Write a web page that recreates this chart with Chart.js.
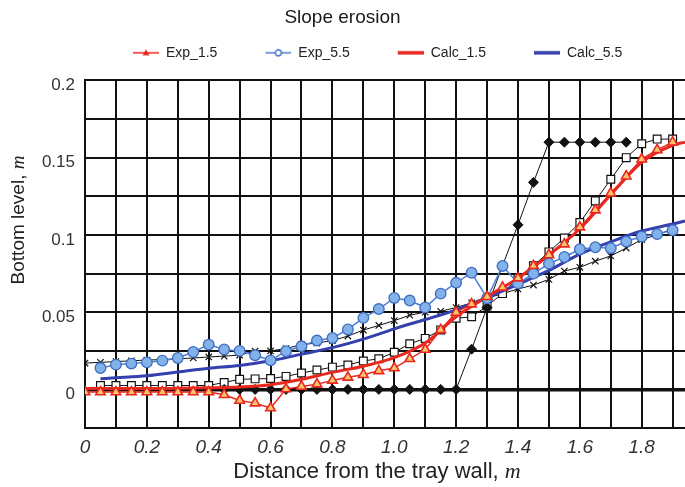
<!DOCTYPE html>
<html><head><meta charset="utf-8">
<script src="https://cdn.jsdelivr.net/npm/chart.js@4/dist/chart.umd.min.js"></script>
<style>html,body{margin:0;padding:0;background:#fff}</style>
</head><body>
<canvas id="c" width="685" height="487"></canvas>
<script>
// ---------------- data ----------------
const chartTitle = 'Slope erosion';
const seriesNames = ['Exp_1.5', 'Exp_5.5', 'Calc_1.5', 'Calc_5.5'];
const xAxisTitle = 'Distance from the tray wall, ';
const yAxisTitle = 'Bottom level, ';
const unitLabel = 'm';

const xExp15 = [0,0.05,0.1,0.15,0.2,0.25,0.3,0.35,0.4,0.45,0.5,0.55,0.6,0.65,0.7,0.75,0.8,0.85,0.9,0.95,1.0,1.05,1.1,1.15,1.2,1.25,1.3,1.35,1.4,1.45,1.5,1.55,1.6,1.65,1.7,1.75,1.8,1.85,1.9];
const yExp15 = [-0.0017,-0.0017,-0.0017,-0.0017,-0.0017,-0.0017,-0.0017,-0.0017,-0.0017,-0.0035,-0.0072,-0.0089,-0.0121,0.0002,0.0019,0.0034,0.0058,0.0078,0.0095,0.012,0.0138,0.0198,0.0258,0.0385,0.0498,0.0552,0.060,0.066,0.072,0.080,0.087,0.094,0.105,0.116,0.127,0.138,0.149,0.155,0.160];

const xExp55 = [0.05,0.1,0.15,0.2,0.25,0.3,0.35,0.4,0.45,0.5,0.55,0.6,0.65,0.7,0.75,0.8,0.85,0.9,0.95,1.0,1.05,1.1,1.15,1.2,1.25,1.3,1.35,1.4,1.45,1.5,1.55,1.6,1.65,1.7,1.75,1.8,1.85,1.9];
const yExp55 = [0.0138,0.016,0.0167,0.0175,0.0186,0.0203,0.0242,0.029,0.0258,0.0249,0.0221,0.0188,0.0247,0.0279,0.0316,0.0333,0.0388,0.0463,0.052,0.0592,0.0575,0.053,0.062,0.069,0.0755,0.059,0.0799,0.0686,0.0749,0.0814,0.0857,0.0907,0.092,0.0914,0.0957,0.0989,0.1005,0.103];

const xCalc15 = [0,0.1,0.2,0.3,0.4,0.5,0.6,0.7,0.8,0.9,1.0,1.1,1.2,1.3,1.4,1.5,1.6,1.7,1.8,1.9,1.94];
const yCalc15 = [0.0005,0.0005,0.0005,0.0007,0.001,0.0015,0.003,0.0065,0.011,0.015,0.0205,0.030,0.047,0.060,0.072,0.087,0.104,0.126,0.147,0.158,0.160];

const xCalc55 = [0.05,0.1,0.2,0.3,0.4,0.5,0.6,0.7,0.8,0.9,1.0,1.1,1.2,1.3,1.4,1.5,1.6,1.7,1.8,1.9,1.94];
const yCalc55 = [0.0069,0.0075,0.0088,0.0112,0.0137,0.0155,0.0185,0.0228,0.027,0.0325,0.0392,0.0452,0.0515,0.0595,0.068,0.077,0.0875,0.0955,0.1025,0.107,0.109];

const xDiamond = [0.45,0.5,0.55,0.6,0.65,0.7,0.75,0.8,0.85,0.9,0.95,1.0,1.05,1.1,1.15,1.2,1.25,1.3,1.35,1.4,1.45,1.5,1.55,1.6,1.65,1.7,1.75];
const yDiamond = [0,0,0,0,0,0,0,0,0,0,0,0,0,0,0,0,0.026,0.053,0.08,0.1065,0.134,0.16,0.16,0.16,0.16,0.16,0.16];

const xSquare = [0.05,0.1,0.15,0.2,0.25,0.3,0.35,0.4,0.45,0.5,0.55,0.6,0.65,0.7,0.75,0.8,0.85,0.9,0.95,1.0,1.05,1.1,1.15,1.2,1.25,1.3,1.35,1.4,1.45,1.5,1.55,1.6,1.65,1.7,1.75,1.8,1.85,1.9];
const ySquare = [0.0025,0.0025,0.0025,0.0025,0.0025,0.0025,0.0025,0.0025,0.0045,0.0065,0.0068,0.007,0.0084,0.0106,0.0125,0.0144,0.0158,0.0184,0.0198,0.024,0.0295,0.033,0.0385,0.046,0.047,0.054,0.062,0.072,0.080,0.089,0.098,0.108,0.122,0.136,0.150,0.159,0.162,0.162];

const xCross = [0,0.05,0.1,0.15,0.2,0.25,0.3,0.35,0.4,0.45,0.5,0.55,0.6,0.65,0.7,0.75,0.8,0.85,0.9,0.95,1.0,1.05,1.1,1.15,1.2,1.25,1.3,1.35,1.4,1.45,1.5,1.55,1.6,1.65,1.7,1.75,1.8,1.85,1.9];
const yCross = [0.017,0.0175,0.018,0.0185,0.019,0.0193,0.0198,0.0203,0.021,0.0215,0.0222,0.0247,0.0249,0.0264,0.029,0.030,0.0316,0.0345,0.0384,0.0414,0.0445,0.048,0.050,0.0505,0.053,0.056,0.059,0.062,0.065,0.0675,0.0712,0.0766,0.079,0.083,0.0864,0.0915,0.097,0.100,0.104];

const yTickValues = [0, 0.05, 0.1, 0.15, 0.2];
const yTickLabels = ['0', '0.05', '0.1', '0.15', '0.2'];
const xTickValues = [0, 0.2, 0.4, 0.6, 0.8, 1.0, 1.2, 1.4, 1.6, 1.8];
const xTickLabels = ['0', '0.2', '0.4', '0.6', '0.8', '1.0', '1.2', '1.4', '1.6', '1.8'];

// ---------------- styling ----------------
const RED = '#e8271e', TRI_FILL = '#fcc36c';
const BLUE_LINE = '#4d7fd4', CIRC_FILL = '#82b2e8', CIRC_EDGE = '#3f6cc4';
const CALC_BLUE = '#3340ae';
const GRID = '#111';
const FONT = '"Liberation Sans", Arial, Helvetica, sans-serif';
Chart.defaults.font.family = FONT;
Chart.defaults.color = '#222';

const pts = (xs, ys) => xs.map((x, i) => ({x, y: ys[i]}));

// legend icons (line + marker), drawn in the right part of a wider box
const ICON_BLANK = 36, ICON_LINE = 26, ICON_W = ICON_BLANK + ICON_LINE, ICON_H = 14;
function makeIcon(kind) {
  const c = document.createElement('canvas');
  c.width = ICON_W; c.height = ICON_H;
  const g = c.getContext('2d');
  const x0 = ICON_BLANK, x1 = ICON_BLANK + ICON_LINE, cy = ICON_H / 2, cx = (x0 + x1) / 2;
  g.beginPath(); g.moveTo(x0, cy); g.lineTo(x1, cy);
  if (kind === 'tri') {
    g.strokeStyle = RED; g.lineWidth = 1.5; g.stroke();
    g.beginPath(); g.moveTo(cx, cy - 3.5); g.lineTo(cx + 3.5, cy + 2.5); g.lineTo(cx - 3.5, cy + 2.5); g.closePath();
    g.fillStyle = RED; g.fill();
  } else if (kind === 'circ') {
    g.strokeStyle = BLUE_LINE; g.lineWidth = 1.5; g.stroke();
    g.beginPath(); g.arc(cx, cy, 3, 0, Math.PI * 2); g.fillStyle = '#fff'; g.fill();
    g.strokeStyle = CIRC_EDGE; g.lineWidth = 1.3; g.stroke();
  } else {
    g.strokeStyle = kind === 'red' ? RED : CALC_BLUE; g.lineWidth = 3.5; g.stroke();
  }
  return c;
}
const legendIcons = [makeIcon('tri'), makeIcon('circ'), makeIcon('red'), makeIcon('blue')];

// axis titles with italic unit
function drawMixed(ctx, main, unit, cx, cy, size) {
  const f1 = size + 'px ' + FONT;
  const f2 = 'italic ' + size + 'px "Liberation Serif", "Times New Roman", serif';
  ctx.font = f1; const w1 = ctx.measureText(main).width;
  ctx.font = f2; const w2 = ctx.measureText(unit).width;
  const x = cx - (w1 + w2) / 2;
  ctx.textAlign = 'left'; ctx.textBaseline = 'middle'; ctx.fillStyle = '#222';
  ctx.font = f1; ctx.fillText(main, x, cy);
  ctx.font = f2; ctx.fillText(unit, x + w1, cy);
}
const axisTitlePlugin = {
  id: 'axisTitlePlugin',
  afterDraw(chart) {
    const ctx = chart.ctx;
    ctx.save();
    drawMixed(ctx, xAxisTitle, unitLabel, 377, 472, 22);
    ctx.translate(19, 220);
    ctx.rotate(-Math.PI / 2);
    drawMixed(ctx, yAxisTitle, unitLabel, 0, 0, 19);
    ctx.restore();
  }
};

const near = (v, arr) => arr.findIndex(a => Math.abs(a - v) < 1e-6);

new Chart(document.getElementById('c'), {
  type: 'line',
  data: {
    datasets: [
      { label: seriesNames[0], data: pts(xExp15, yExp15), borderColor: RED, borderWidth: 1.5,
        pointStyle: 'triangle', pointRadius: 5.5, pointBackgroundColor: TRI_FILL, pointBorderColor: RED, pointBorderWidth: 1.6, tension: 0 },
      { label: seriesNames[1], data: pts(xExp55, yExp55), borderColor: BLUE_LINE, borderWidth: 1.5,
        pointStyle: 'circle', pointRadius: 5.3, pointBackgroundColor: CIRC_FILL, pointBorderColor: CIRC_EDGE, pointBorderWidth: 1.3, tension: 0 },
      { label: seriesNames[2], data: pts(xCalc15, yCalc15), borderColor: RED, borderWidth: 3,
        pointRadius: 0, cubicInterpolationMode: 'monotone' },
      { label: seriesNames[3], data: pts(xCalc55, yCalc55), borderColor: CALC_BLUE, borderWidth: 3,
        pointRadius: 0, cubicInterpolationMode: 'monotone' },
      { label: 'diamond', data: pts(xDiamond, yDiamond), borderColor: '#111', borderWidth: 1,
        pointStyle: 'rectRot', pointRadius: 5, pointBackgroundColor: '#111', pointBorderColor: '#111', tension: 0 },
      { label: 'square', data: pts(xSquare, ySquare), borderColor: '#111', borderWidth: 1,
        pointStyle: 'rect', pointRadius: 5.5, pointBackgroundColor: '#fff', pointBorderColor: '#111', pointBorderWidth: 1.2, tension: 0 },
      { label: 'cross', data: pts(xCross, yCross), borderColor: '#111', borderWidth: 1,
        pointStyle: 'crossRot', pointRadius: 4.5, pointBorderColor: '#111', pointBorderWidth: 1.2, tension: 0 }
    ]
  },
  options: {
    responsive: false,
    animation: false,
    events: [],
    layout: { padding: 0, autoPadding: false },
    plugins: {
      title: { display: true, text: chartTitle, color: '#1a1a1a', font: { size: 19, weight: 'normal' },
        padding: { top: 6, bottom: 5 } },
      subtitle: { display: true, text: '', weight: 500, fullSize: false, font: { size: 10, lineHeight: 1.06 }, padding: 0 },
      legend: {
        display: true, position: 'top', align: 'start', fullSize: false,
        labels: {
          usePointStyle: true, pointStyleWidth: ICON_W, padding: 12,
          font: { size: 14 }, color: '#222',
          filter: item => item.datasetIndex < 4,
          generateLabels(chart) {
            const items = Chart.defaults.plugins.legend.labels.generateLabels(chart);
            items.forEach(it => { if (legendIcons[it.datasetIndex]) it.pointStyle = legendIcons[it.datasetIndex]; });
            return items;
          }
        }
      },
      tooltip: { enabled: false }
    },
    scales: {
      x: {
        type: 'linear', min: 0, max: 1.94,
        afterFit(s) { s.height = 59; s.paddingLeft = 0; s.paddingRight = 0; },
        border: { display: true, color: GRID, width: 2 },
        grid: { color: GRID, lineWidth: 2, drawTicks: false },
        ticks: {
          stepSize: 0.1, includeBounds: false, autoSkip: false, maxRotation: 0, padding: 8,
          font: { size: 19, style: 'italic' }, color: '#333',
          callback(v) { const i = near(v, xTickValues); return i >= 0 ? xTickLabels[i] : ''; }
        }
      },
      y: {
        type: 'linear', min: -0.025, max: 0.2,
        afterFit(s) { s.width = 85; },
        border: { display: true, color: GRID, width: 2 },
        grid: { color: GRID, lineWidth: ctx => (ctx.tick && Math.abs(ctx.tick.value) < 1e-9 ? 3.5 : 2), drawTicks: false },
        ticks: {
          stepSize: 0.025, autoSkip: false, padding: 10, labelOffset: 5,
          font: { size: 17 }, color: '#333',
          callback(v) { const i = near(v, yTickValues); return i >= 0 ? yTickLabels[i] : ''; }
        }
      }
    }
  },
  plugins: [axisTitlePlugin]
});
</script>
</body></html>
